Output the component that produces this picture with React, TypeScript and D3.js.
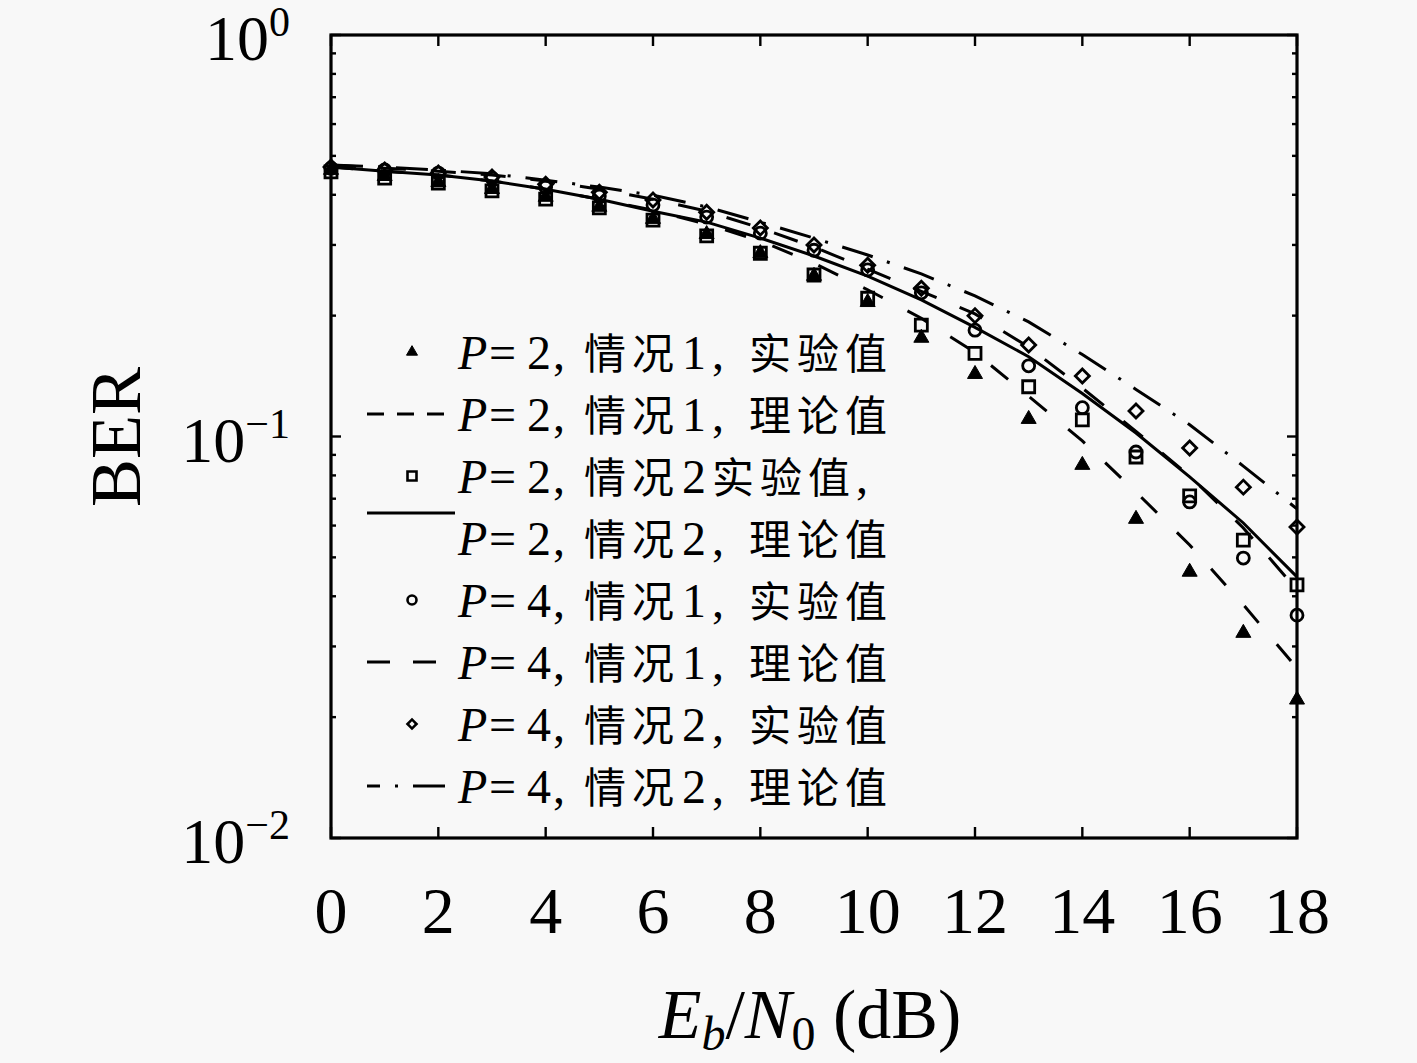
import React from 'react';
import * as d3 from 'd3';

// Eb/N0 (dB)
const snr = [0, 1, 2, 3, 4, 5, 6, 7, 8, 9, 10, 11, 12, 13, 14, 15, 16, 17, 18];

// P=2, case 1
const berP2C1Exp = [0.461, 0.445, 0.430, 0.413, 0.395, 0.373, 0.348, 0.319, 0.286, 0.251, 0.216, 0.176, 0.143, 0.1105, 0.0849, 0.0623, 0.0460, 0.0324, 0.0221];
const berP2C1Theory = [0.469, 0.458, 0.448, 0.433, 0.413, 0.390, 0.366, 0.338, 0.307, 0.270, 0.232, 0.197, 0.162, 0.126, 0.0975, 0.0727, 0.0537, 0.0381, 0.0265];
// P=2, case 2
const berP2C2Exp = [0.456, 0.440, 0.428, 0.409, 0.390, 0.371, 0.346, 0.316, 0.286, 0.2525, 0.221, 0.1895, 0.161, 0.133, 0.110, 0.0889, 0.0711, 0.0552, 0.0427];
const berP2C2Theory = [0.469, 0.458, 0.448, 0.433, 0.413, 0.390, 0.364, 0.342, 0.312, 0.2816, 0.251, 0.219, 0.187, 0.158, 0.128, 0.102, 0.0793, 0.0609, 0.0447];
// P=4, case 1
const berP4C1Exp = [0.466, 0.461, 0.453, 0.440, 0.418, 0.397, 0.377, 0.352, 0.321, 0.291, 0.260, 0.228, 0.184, 0.150, 0.118, 0.0915, 0.0687, 0.0498, 0.0359];
const berP4C1Theory = [0.4745, 0.466, 0.458, 0.448, 0.433, 0.413, 0.390, 0.364, 0.3305, 0.2965, 0.261, 0.230, 0.202, 0.167, 0.132, 0.103, 0.0797, 0.0592, 0.0415];
// P=4, case 2
const berP4C2Exp = [0.469, 0.461, 0.453, 0.443, 0.425, 0.406, 0.388, 0.362, 0.3305, 0.300, 0.267, 0.234, 0.200, 0.169, 0.1415, 0.1157, 0.0936, 0.0748, 0.0595];
const berP4C2Theory = [0.4745, 0.469, 0.461, 0.451, 0.435, 0.418, 0.399, 0.373, 0.342, 0.312, 0.2832, 0.254, 0.224, 0.193, 0.160, 0.131, 0.107, 0.0844, 0.066];

const xTickValues = [0, 2, 4, 6, 8, 10, 12, 14, 16, 18];
const yDecades = [-2, -1, 0];

// legend labels: P value, case label, case number, value kind
const legendP = ['2', '2', '2', '2', '4', '4', '4', '4'];
const legendCaseWord = '情况';
const legendCaseNo = ['1', '1', '2', '2', '1', '1', '2', '2'];
const legendKind = ['实验值', '理论值', '实验值', '理论值', '实验值', '理论值', '实验值', '理论值'];
// row 3 is written "P=2, 情况2实验值," in the original
const legendCompact = [false, false, true, false, false, false, false, false];

const LATIN = "'Liberation Serif', 'DejaVu Serif', serif";
const CJK = "'Noto Sans CJK SC', sans-serif";

type MarkerKind = 'triangle' | 'square' | 'circle' | 'diamond';

function Marker({ kind, cx, cy, s, sw = 2.8 }: { kind: MarkerKind; cx: number; cy: number; s: number; sw?: number }) {
  if (kind === 'triangle') {
    const p = d3.symbol().type(d3.symbolTriangle).size((s * s * Math.sqrt(3)) / 4)();
    return <path d={p || ''} transform={`translate(${cx},${cy})`} fill="#000" stroke="#000" strokeWidth={1} />;
  }
  if (kind === 'square') {
    const p = d3.symbol().type(d3.symbolSquare).size(s * s)();
    return <path d={p || ''} transform={`translate(${cx},${cy})`} fill="none" stroke="#000" strokeWidth={sw} />;
  }
  if (kind === 'circle') {
    return <circle cx={cx} cy={cy} r={s / 2} fill="none" stroke="#000" strokeWidth={sw} />;
  }
  const side = s / Math.SQRT2;
  const p = d3.symbol().type(d3.symbolSquare).size(side * side)();
  return <path d={p || ''} transform={`translate(${cx},${cy}) rotate(45)`} fill="none" stroke="#000" strokeWidth={sw} />;
}

export default function App() {
  const W = 1417;
  const H = 1063;
  const x = d3.scaleLinear().domain([0, 18]).range([331, 1297]);
  const y = d3.scaleLog().domain([0.01, 1]).range([838, 35]);
  const [x0, x1] = x.range();
  const [yb, yt] = y.range();

  const line = d3
    .line<number>()
    .x((_, i) => x(snr[i]))
    .y((d) => y(d))
    .curve(d3.curveLinear);

  const curves = [
    { data: berP2C1Theory, dash: '22,28' },
    { data: berP2C2Theory, dash: '' },
    { data: berP4C1Theory, dash: '25,25' },
    { data: berP4C2Theory, dash: '32,15,3,15' },
  ];

  const markerSets: { data: number[]; kind: MarkerKind; s: number }[] = [
    { data: berP2C1Exp, kind: 'triangle', s: 15 },
    { data: berP2C2Exp, kind: 'square', s: 12 },
    { data: berP4C1Exp, kind: 'circle', s: 12 },
    { data: berP4C2Exp, kind: 'diamond', s: 14 },
  ];

  const minorTicks: number[] = [];
  [-2, -1].forEach((d) => {
    for (let k = 2; k <= 9; k++) minorTicks.push(k * Math.pow(10, d));
  });

  // legend layout
  const rowY = (i: number) => 352 + 62 * i;
  const lx0 = 367;
  const lx1 = 455;
  const lmx = 412;
  const legendItems: { kind: 'marker' | 'line'; marker?: MarkerKind; dash?: string; dashOffset?: number; ly?: number }[] = [
    { kind: 'marker', marker: 'triangle' },
    { kind: 'line', dash: '17,13' },
    { kind: 'marker', marker: 'square' },
    { kind: 'line', dash: '', ly: 513 },
    { kind: 'marker', marker: 'circle' },
    { kind: 'line', dash: '23,23' },
    { kind: 'marker', marker: 'diamond' },
    { kind: 'line', dash: '32,15,3,15', dashOffset: 19 },
  ];

  return (
    <svg
      width={W}
      height={H}
      viewBox={`0 0 ${W} ${H}`}
      style={{ position: 'absolute', left: 0, top: 0, display: 'block' }}
    >
      <rect x={0} y={0} width={W} height={H} fill="#f8f8f8" />

      {/* curves */}
      <g>
        {curves.map((c, i) => (
          <path
            key={i}
            d={line(c.data) || ''}
            fill="none"
            stroke="#000"
            strokeWidth={3}
            strokeDasharray={c.dash || undefined}
          />
        ))}
      </g>

      {/* markers */}
      <g>
        {markerSets.map((m, i) =>
          m.data.map((v, j) => <Marker key={`${i}-${j}`} kind={m.kind} cx={x(snr[j])} cy={y(v)} s={m.s} />)
        )}
      </g>

      {/* axes box */}
      <rect x={x0} y={yt} width={x1 - x0} height={yb - yt} fill="none" stroke="#000" strokeWidth={3.2} />

      {/* ticks */}
      <g stroke="#000" strokeWidth={2.4}>
        {xTickValues.map((t) => (
          <g key={t}>
            <line x1={x(t)} x2={x(t)} y1={yb} y2={yb - 11} />
            <line x1={x(t)} x2={x(t)} y1={yt} y2={yt + 11} />
          </g>
        ))}
        {yDecades.map((d) => (
          <g key={d}>
            <line x1={x0} x2={x0 + 10} y1={y(Math.pow(10, d))} y2={y(Math.pow(10, d))} />
            <line x1={x1} x2={x1 - 10} y1={y(Math.pow(10, d))} y2={y(Math.pow(10, d))} />
          </g>
        ))}
        {minorTicks.map((v) => (
          <g key={v}>
            <line x1={x0} x2={x0 + 5} y1={y(v)} y2={y(v)} />
            <line x1={x1} x2={x1 - 5} y1={y(v)} y2={y(v)} />
          </g>
        ))}
      </g>

      {/* x tick labels */}
      <g fontFamily={LATIN} fontSize={66} fill="#000">
        {xTickValues.map((t) => (
          <text key={t} x={x(t)} y={933} textAnchor="middle">
            {t}
          </text>
        ))}
      </g>

      {/* y tick labels */}
      <g fontFamily={LATIN} fill="#000">
        {yDecades.map((d) => (
          <text key={d} x={290} y={y(Math.pow(10, d)) + 25} textAnchor="end" fontSize={64}>
            10
            <tspan dy={-24} fontSize={42}>
              {d === 0 ? '0' : `\u2212${-d}`}
            </tspan>
          </text>
        ))}
      </g>

      {/* axis labels */}
      <text
        transform="translate(140,437) rotate(-90)"
        textAnchor="middle"
        fontFamily={LATIN}
        fontSize={72}
        fill="#000"
      >
        BER
      </text>
      <text x={810} y={1038} textAnchor="middle" fontFamily={LATIN} fontSize={70} fill="#000">
        <tspan fontStyle="italic">E</tspan>
        <tspan fontStyle="italic" fontSize={48} dy={12}>
          b
        </tspan>
        <tspan dy={-12}>/</tspan>
        <tspan fontStyle="italic">N</tspan>
        <tspan fontSize={48} dy={12}>
          0
        </tspan>
        <tspan dy={-12}> (dB)</tspan>
      </text>

      {/* legend */}
      <g fill="#000">
        {legendItems.map((it, i) => {
          const cy = rowY(i);
          const by = cy + 17;
          const compact = legendCompact[i];
          return (
            <g key={i}>
              {it.kind === 'marker' ? (
                <Marker kind={it.marker as MarkerKind} cx={lmx} cy={cy} s={it.marker === 'triangle' ? 11 : 9} sw={2.6} />
              ) : (
                <line
                  x1={lx0}
                  x2={lx1}
                  y1={it.ly ?? cy}
                  y2={it.ly ?? cy}
                  stroke="#000"
                  strokeWidth={3}
                  strokeDasharray={it.dash || undefined}
                  strokeDashoffset={it.dashOffset || 0}
                />
              )}
              <text y={by} fontFamily={LATIN} fontSize={48}>
                <tspan x={458} fontStyle="italic">P</tspan>
                <tspan x={489}>=</tspan>
                <tspan x={527}>{legendP[i]}</tspan>
                <tspan x={553}>,</tspan>
                <tspan x={584} fontFamily={CJK} fontSize={42} letterSpacing={6}>{legendCaseWord}</tspan>
                <tspan x={682}>{legendCaseNo[i]}</tspan>
                {compact ? (
                  <>
                    <tspan x={712} fontFamily={CJK} fontSize={42} letterSpacing={6}>{legendKind[i]}</tspan>
                    <tspan x={856}>,</tspan>
                  </>
                ) : (
                  <>
                    <tspan x={712}>,</tspan>
                    <tspan x={749} fontFamily={CJK} fontSize={42} letterSpacing={6}>{legendKind[i]}</tspan>
                  </>
                )}
              </text>
            </g>
          );
        })}
      </g>
    </svg>
  );
}
